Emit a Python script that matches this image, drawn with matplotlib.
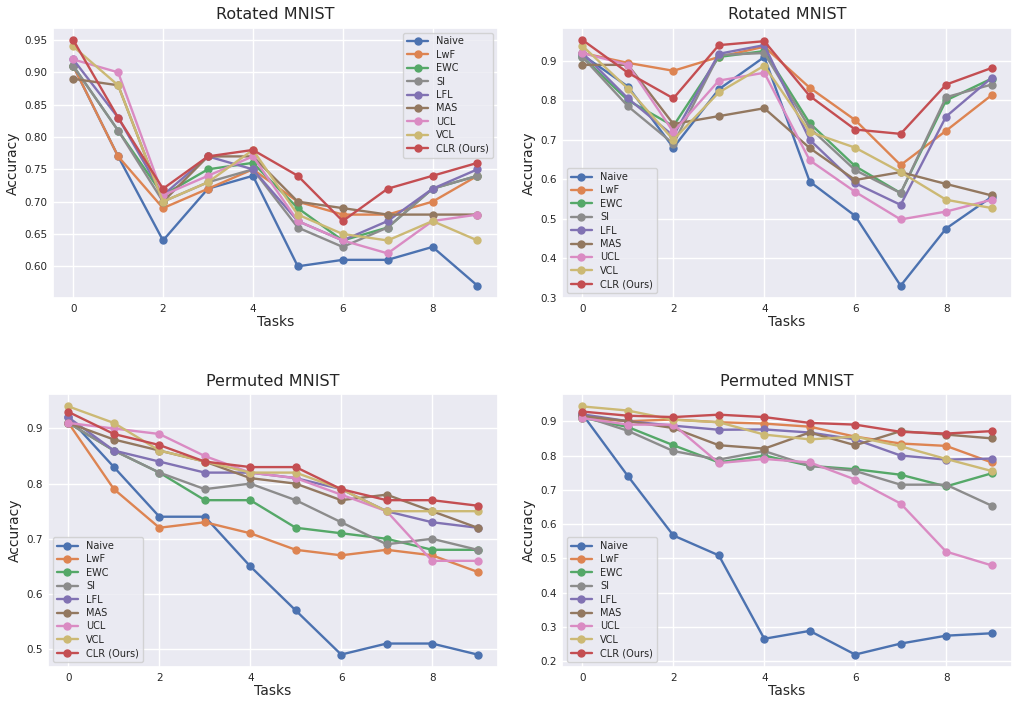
import matplotlib
matplotlib.use("Agg")
import matplotlib.pyplot as plt
import seaborn as sns
import numpy as np

methods = ["Naive", "LwF", "EWC", "SI", "LFL", "MAS", "UCL", "VCL", "CLR (Ours)"]
tasks = list(range(10))

# Rotated MNIST (left panel)
rotated_a = [
    [0.91, 0.77, 0.64, 0.72, 0.74, 0.60, 0.61, 0.61, 0.63, 0.57],
    [0.91, 0.77, 0.69, 0.72, 0.75, 0.70, 0.68, 0.68, 0.70, 0.74],
    [0.91, 0.81, 0.71, 0.75, 0.76, 0.69, 0.64, 0.66, 0.72, 0.74],
    [0.91, 0.81, 0.70, 0.73, 0.75, 0.66, 0.63, 0.66, 0.72, 0.74],
    [0.92, 0.83, 0.71, 0.77, 0.75, 0.67, 0.64, 0.67, 0.72, 0.75],
    [0.89, 0.88, 0.70, 0.77, 0.77, 0.70, 0.69, 0.68, 0.68, 0.68],
    [0.92, 0.90, 0.71, 0.74, 0.77, 0.67, 0.64, 0.62, 0.67, 0.68],
    [0.94, 0.88, 0.70, 0.73, 0.78, 0.68, 0.65, 0.64, 0.67, 0.64],
    [0.95, 0.83, 0.72, 0.77, 0.78, 0.74, 0.67, 0.72, 0.74, 0.76],
]

# Rotated MNIST (right panel)
rotated_b = [
    [0.915, 0.835, 0.68, 0.828, 0.91, 0.594, 0.507, 0.33, 0.475, 0.555],
    [0.92, 0.895, 0.875, 0.91, 0.936, 0.832, 0.75, 0.636, 0.723, 0.813],
    [0.91, 0.80, 0.735, 0.91, 0.925, 0.742, 0.633, 0.565, 0.80, 0.855],
    [0.91, 0.785, 0.69, 0.915, 0.92, 0.73, 0.623, 0.565, 0.808, 0.84],
    [0.92, 0.805, 0.71, 0.918, 0.94, 0.70, 0.59, 0.535, 0.759, 0.857],
    [0.89, 0.89, 0.74, 0.76, 0.78, 0.679, 0.598, 0.618, 0.588, 0.559],
    [0.92, 0.89, 0.72, 0.85, 0.87, 0.648, 0.568, 0.498, 0.518, 0.548],
    [0.938, 0.83, 0.70, 0.82, 0.888, 0.72, 0.68, 0.618, 0.548, 0.527],
    [0.953, 0.87, 0.805, 0.94, 0.95, 0.811, 0.726, 0.715, 0.84, 0.882],
]

# Permuted MNIST (left panel)
permuted_a = [
    [0.92, 0.83, 0.74, 0.74, 0.65, 0.57, 0.49, 0.51, 0.51, 0.49],
    [0.91, 0.79, 0.72, 0.73, 0.71, 0.68, 0.67, 0.68, 0.67, 0.64],
    [0.91, 0.86, 0.82, 0.77, 0.77, 0.72, 0.71, 0.70, 0.68, 0.68],
    [0.91, 0.86, 0.82, 0.79, 0.80, 0.77, 0.73, 0.69, 0.70, 0.68],
    [0.92, 0.86, 0.84, 0.82, 0.82, 0.81, 0.79, 0.75, 0.73, 0.72],
    [0.91, 0.88, 0.86, 0.84, 0.81, 0.80, 0.77, 0.78, 0.75, 0.72],
    [0.91, 0.90, 0.89, 0.85, 0.82, 0.81, 0.78, 0.75, 0.66, 0.66],
    [0.94, 0.91, 0.86, 0.84, 0.82, 0.82, 0.79, 0.75, 0.75, 0.75],
    [0.93, 0.89, 0.87, 0.84, 0.83, 0.83, 0.79, 0.77, 0.77, 0.76],
]

# Permuted MNIST (right panel)
permuted_b = [
    [0.92, 0.74, 0.567, 0.509, 0.266, 0.289, 0.22, 0.252, 0.275, 0.282],
    [0.91, 0.90, 0.905, 0.897, 0.893, 0.884, 0.855, 0.835, 0.828, 0.78],
    [0.91, 0.883, 0.83, 0.78, 0.80, 0.77, 0.76, 0.744, 0.71, 0.748],
    [0.915, 0.872, 0.813, 0.788, 0.813, 0.77, 0.755, 0.715, 0.715, 0.654],
    [0.92, 0.90, 0.887, 0.875, 0.876, 0.867, 0.847, 0.80, 0.788, 0.791],
    [0.915, 0.90, 0.88, 0.83, 0.82, 0.867, 0.83, 0.871, 0.861, 0.85],
    [0.909, 0.89, 0.89, 0.778, 0.79, 0.78, 0.73, 0.66, 0.52, 0.48],
    [0.943, 0.931, 0.904, 0.897, 0.861, 0.847, 0.855, 0.827, 0.79, 0.755],
    [0.928, 0.916, 0.912, 0.919, 0.912, 0.895, 0.89, 0.869, 0.864, 0.871],
]

sns.set_theme(style="darkgrid")
plt.rcParams['font.family'] = ['DejaVu Sans']

deep = sns.color_palette("deep")
# old seaborn colour cycle order used in the paper figure
colors = [deep[0], deep[1], deep[2], deep[7], deep[4], deep[5], deep[6], deep[8], deep[3]]

fig = plt.figure(figsize=(10.13, 7.02), dpi=100)

# axes boxes in figure fractions
panels = [
    (rotated_a, "Rotated MNIST", [0.0523, 0.5755, 0.4390, 0.3850], "upper right"),
    (rotated_b, "Rotated MNIST", [0.5548, 0.5755, 0.4442, 0.3850], "lower left"),
    (permuted_a, "Permuted MNIST", [0.0474, 0.0499, 0.4442, 0.3888], "lower left"),
    (permuted_b, "Permuted MNIST", [0.5548, 0.0499, 0.4442, 0.3888], "lower left"),
]

for data, title, box, loc in panels:
    ax = fig.add_axes(box)
    for name, vals, c in zip(methods, data, colors):
        ax.plot(tasks, vals, marker='o', markersize=5, linewidth=1.7,
                color=c, label=name)
    ax.set_title(title, fontsize=11.5, pad=6)
    ax.set_xlabel("Tasks", fontsize=10, labelpad=1)
    ax.set_ylabel("Accuracy", fontsize=10, labelpad=3)
    ax.set_xticks([0, 2, 4, 6, 8])
    ax.tick_params(labelsize=7.5, length=0, pad=4)
    ax.legend(loc=loc, fontsize=7, framealpha=0.8, handlelength=2.2,
              borderpad=0.4, labelspacing=0.35)

fig.savefig("out.png", dpi=100)
